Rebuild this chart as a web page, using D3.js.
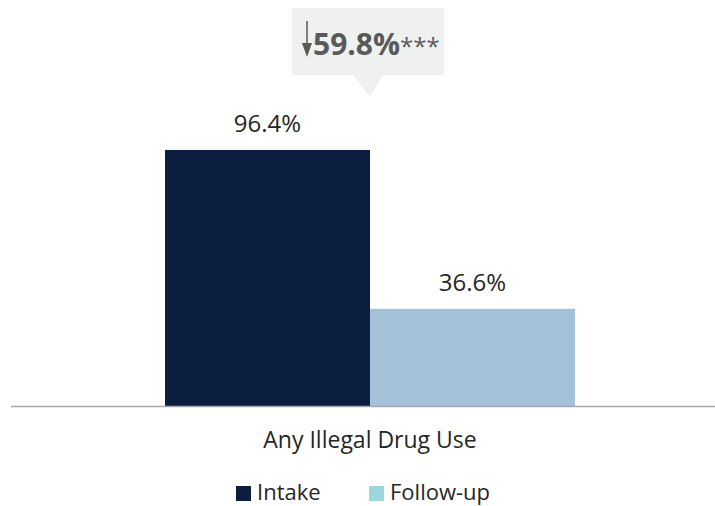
<!DOCTYPE html>
<html><head><meta charset="utf-8">
<script src="https://cdn.jsdelivr.net/npm/d3@7"></script>
<style>body{margin:0;background:#fff}svg{display:block}text{font-family:"Open Sans",sans-serif}</style>
</head><body><svg id="c" width="715" height="506"></svg>
<script>
const categories = ["Any Illegal Drug Use"];
const seriesNames = ["Intake", "Follow-up"];
const intake = [96.4];
const followUp = [36.6];
const changeLabel = ["59.8%"];
const sigLabel = ["***"];

const svg = d3.select("#c");
const baseY = 406;
const x0 = d3.scaleBand().domain(categories).range([165, 575]).padding(0);
const x1 = d3.scaleBand().domain(seriesNames).range([0, x0.bandwidth()]).padding(0);
const y = d3.scaleLinear().domain([0, 100]).range([baseY, 140.4]);
const barColor = {"Intake": "#0c1e40", "Follow-up": "#a3c1d8"};
const legendColor = {"Intake": "#0c1e40", "Follow-up": "#9fd3de"};

const data = categories.map((c, i) => ({cat: c, vals: [{s: "Intake", v: intake[i]}, {s: "Follow-up", v: followUp[i]}]}));

const g = svg.append("g");
data.forEach(d => {
  const gg = g.append("g").attr("transform", `translate(${x0(d.cat)},0)`);
  gg.selectAll("rect").data(d.vals).join("rect")
    .attr("x", e => x1(e.s)).attr("width", x1.bandwidth())
    .attr("y", e => y(e.v)).attr("height", e => y(0) - y(e.v))
    .attr("fill", e => barColor[e.s]);
  gg.selectAll("text.val").data(d.vals).join("text").attr("class", "val")
    .attr("x", e => x1(e.s) + x1.bandwidth() / 2).attr("y", e => y(e.v) - 17.5)
    .attr("text-anchor", "middle").attr("font-size", 24).attr("fill", "#262626")
    .text(e => e.v.toFixed(1) + "%");
});

// axis
const xAxis = d3.axisBottom(x0).tickSize(0).tickPadding(0);
const ax = svg.append("g").attr("transform", `translate(0,${baseY})`).call(xAxis);
ax.select(".domain").remove();
svg.append("line").attr("x1", 11).attr("x2", 715).attr("y1", baseY + 0.5).attr("y2", baseY + 0.5)
  .attr("stroke", "#a6a6a6").attr("stroke-width", 1.5);
ax.selectAll(".tick text").attr("y", 42).attr("dy", 0).attr("font-size", 23).attr("fill", "#262626")
  .attr("font-family", "Open Sans, sans-serif");

// callout
const cx = x0(categories[0]) + x0.bandwidth() / 2;
const call = svg.append("g");
call.append("path")
  .attr("d", `M292,8 H444 V75 H383 L${cx},97 L353,75 H292 Z`)
  .attr("fill", "#eff0f0");
// down arrow
call.append("line").attr("x1", 307).attr("x2", 307).attr("y1", 21).attr("y2", 48)
  .attr("stroke", "#595959").attr("stroke-width", 1.5);
call.append("path").attr("d", "M302,43 L312,43 L307,57 Z").attr("fill", "#595959");
const ct = call.append("text").attr("x", 313).attr("y", 55).attr("fill", "#595959");
ct.append("tspan").attr("font-size", 30).attr("font-weight", "bold").text(changeLabel[0]);
ct.append("tspan").attr("font-size", 24).attr("font-weight", "normal").text(sigLabel[0]);

// legend
const leg = svg.append("g");
const lx = [236, 369];
seriesNames.forEach((s, i) => {
  leg.append("rect").attr("x", lx[i]).attr("y", 486).attr("width", 15).attr("height", 15).attr("fill", legendColor[s]);
  leg.append("text").attr("x", lx[i] + 21).attr("y", 500).attr("font-size", 22).attr("fill", "#262626").text(s);
});
</script></body></html>
